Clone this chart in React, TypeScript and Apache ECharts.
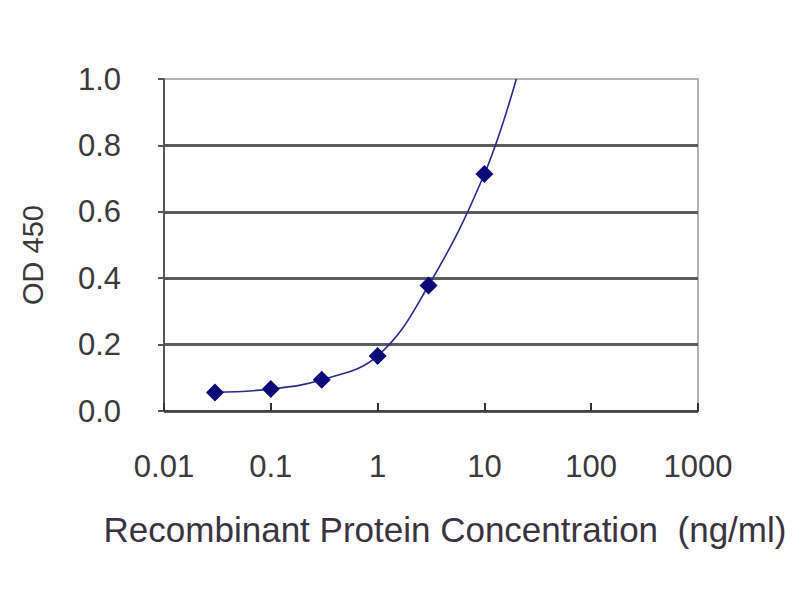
import React, { useEffect, useRef } from "react";
import * as echarts from "echarts";

// Measured OD450 values at each concentration (ng/ml)
const concentrations = [0.03, 0.1, 0.3, 1, 3, 10];
const odValues = [0.056, 0.066, 0.094, 0.166, 0.378, 0.714];

// Fitted curve as [concentration, OD]
const curveX = [0.03, 0.1, 0.3, 1, 3, 10, 19.9];
const curveY = [0.056, 0.066, 0.094, 0.166, 0.378, 0.714, 1.0];

const xTickLabels = ["0.01", "0.1", "1", "10", "100", "1000"];
const yTickLabels = ["0.0", "0.2", "0.4", "0.6", "0.8", "1.0"];

const FONT = "'Liberation Sans', Arial, sans-serif";

export default function App() {
  const ref = useRef<HTMLDivElement>(null);

  useEffect(() => {
    if (!ref.current) return;
    const chart = echarts.init(ref.current, undefined, { renderer: "svg" });
    const points = concentrations.map((c, i) => [c, odValues[i]]);
    const curve = curveX.map((c, i) => [c, curveY[i]]);
    chart.setOption({
      animation: false,
      backgroundColor: "#ffffff",
      grid: {
        left: 164,
        right: 102,
        top: 79,
        bottom: 189,
        show: true,
        borderColor: "#9a9a9a",
        borderWidth: 1.5,
        backgroundColor: "transparent",
      },
      xAxis: {
        type: "log",
        logBase: 10,
        min: 0.01,
        max: 1000,
        name: "Recombinant Protein Concentration  (ng/ml)",
        nameLocation: "middle",
        nameGap: 101,
        nameTextStyle: {
          fontFamily: FONT,
          fontSize: 35,
          color: "#3a3340",
          padding: [0, 0, 0, 28],
        },
        axisLine: { show: true, lineStyle: { color: "#444444", width: 2 } },
        axisTick: { show: true, inside: true, length: 8, lineStyle: { color: "#333333", width: 2 } },
        minorTick: { show: false },
        splitLine: { show: false },
        axisLabel: {
          fontFamily: FONT,
          fontSize: 31,
          color: "#3a3a3a",
          margin: 40,
          formatter: (v: number) => {
            const idx = Math.round(Math.log10(v)) + 2;
            return xTickLabels[idx] ?? String(v);
          },
        },
      },
      yAxis: {
        type: "value",
        min: 0,
        max: 1,
        interval: 0.2,
        name: "OD 450",
        nameLocation: "middle",
        nameGap: 117,
        nameRotate: 90,
        nameTextStyle: {
          fontFamily: FONT,
          fontSize: 29,
          color: "#3a3a3a",
          padding: [0, 20, 0, 0],
        },
        axisLine: { show: true, lineStyle: { color: "#555555", width: 2 } },
        axisTick: { show: true, inside: false, length: 6, lineStyle: { color: "#555555", width: 2 } },
        splitLine: {
          show: true,
          showMaxLine: false,
          lineStyle: { color: "#5c5c5c", width: 3 },
        },
        axisLabel: {
          fontFamily: FONT,
          fontSize: 31,
          color: "#3a3a3a",
          margin: 43,
          formatter: (v: number) => {
            const idx = Math.round(v / 0.2);
            return yTickLabels[idx] ?? v.toFixed(1);
          },
        },
      },
      series: [
        {
          type: "line",
          data: curve,
          smooth: 0.4,
          showSymbol: false,
          symbol: "none",
          lineStyle: { color: "#2a2a8f", width: 1.6 },
          z: 3,
        },
        {
          type: "scatter",
          data: points,
          symbol: "diamond",
          symbolSize: 18,
          itemStyle: { color: "#0a0a7a", opacity: 1 },
          z: 4,
        },
      ],
    });
    return () => chart.dispose();
  }, []);

  return (
    <div
      ref={ref}
      style={{ position: "fixed", left: 0, top: 0, width: 800, height: 600, background: "#fff" }}
    />
  );
}
